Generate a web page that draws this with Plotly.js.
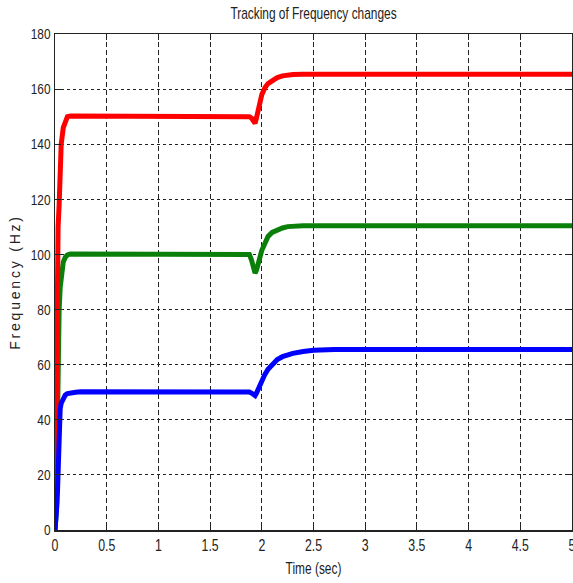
<!DOCTYPE html>
<html>
<head>
<meta charset="utf-8">
<script src="https://cdn.plot.ly/plotly-3.0.1.min.js"></script>
<style>
  html, body { margin: 0; padding: 0; background: #fff; overflow: hidden; }
  #chart { width: 573px; height: 583px; }
  .ytitle { letter-spacing: 2.8px; }
</style>
</head>
<body>
<div id="chart"></div>
<script>
// Time samples (sec)
const time = [0, 0.01, 0.02, 0.025, 0.03, 0.04, 0.05, 0.06, 0.08, 0.1, 0.12, 0.15, 0.2, 0.25, 0.3, 0.5, 1.0, 1.5,
              1.85, 1.88, 1.9, 1.92, 1.935, 1.95, 1.97, 2.0, 2.03, 2.06, 2.1, 2.15, 2.2, 2.25, 2.3, 2.4, 2.5, 2.7, 3.0, 4.0, 5.0];

// Frequency series (Hz)
const redFreq = [0, 40, 95, 105, 110, 118, 130, 140, 146, 148.5, 150, 150.2, 150.2, 150.2, 150.2, 150.2, 150.2, 150.2,
                 150.2, 150, 149.5, 148.2, 147.6, 149.8, 153.5, 158, 160.5, 162, 163, 164.2, 164.8, 165.1, 165.3, 165.4, 165.4, 165.4, 165.4, 165.4, 165.4];
const greenFreq = [0, 5, 30, 55, 68, 80, 88, 93, 97.3, 99, 99.8, 100.2, 100.2, 100.2, 100.2, 100.2, 100.2, 100.2,
                   100.2, 100, 98, 94.5, 93.2, 94.5, 98, 101.5, 104, 106.5, 108, 109, 109.6, 110.1, 110.3, 110.4, 110.4, 110.4, 110.4, 110.4, 110.4];
const blueFreq = [0, 4, 10, 15, 22, 40, 44, 46, 48, 49, 49.5, 49.8, 50, 50.2, 50.2, 50.2, 50.2, 50.2,
                  50.2, 50.1, 49.7, 49, 48.8, 49.8, 51.5, 54.5, 56.5, 58.3, 60.2, 61.9, 62.9, 63.6, 64.1, 64.8, 65.2, 65.5, 65.5, 65.5, 65.5];

const xTicks = [0, 0.5, 1, 1.5, 2, 2.5, 3, 3.5, 4, 4.5, 5];
const xTickLabels = ['0', '0.5', '1', '1.5', '2', '2.5', '3', '3.5', '4', '4.5', '5'];
const yTicks = [0, 20, 40, 60, 80, 100, 120, 140, 160, 180];

const titleText = 'Tracking of Frequency changes';
const xTitle = 'Time (sec)';
const yTitle = 'Frequency (Hz)';

const sans = '"Liberation Sans", Arial, sans-serif';

const traces = [
  { x: time, y: greenFreq, mode: 'lines', line: { color: '#0a800a', width: 5 }, hoverinfo: 'skip' },
  { x: time, y: redFreq, mode: 'lines', line: { color: '#ff0000', width: 5 }, hoverinfo: 'skip' },
  { x: time, y: blueFreq, mode: 'lines', line: { color: '#0000ff', width: 5 }, hoverinfo: 'skip' }
];

const layout = {
  width: 573, height: 583,
  margin: { l: 55, r: 1, t: 34, b: 53, pad: 0 },
  paper_bgcolor: '#ffffff', plot_bgcolor: '#ffffff',
  showlegend: false,
  title: {
    text: titleText,
    font: { family: sans, size: 17, color: '#222' },
    x: 0.5, xref: 'paper', xanchor: 'center',
    y: 1 - 13 / 583, yref: 'container', yanchor: 'middle'
  },
  xaxis: {
    range: [0, 5], tickvals: xTicks, ticktext: xTickLabels,
    ticks: 'inside', ticklen: 6, tickcolor: '#222', tickwidth: 1,
    showline: true, linecolor: '#222', linewidth: 1.5, mirror: 'ticks',
    showgrid: true, gridcolor: '#222', gridwidth: 1, griddash: '5px,3px',
    zeroline: false, ticklabeloverflow: 'allow',
    tickfont: { family: sans, size: 16, color: '#222' },
    title: { text: xTitle, font: { family: sans, size: 17, color: '#222' }, standoff: 9 }
  },
  yaxis: {
    range: [0, 180], tickvals: yTicks,
    ticks: 'inside', ticklen: 6, tickcolor: '#222', tickwidth: 1,
    showline: true, linecolor: '#222', linewidth: 1.5, mirror: 'ticks',
    showgrid: true, gridcolor: '#222', gridwidth: 1, griddash: '3px,3px',
    zeroline: false,
    tickfont: { family: sans, size: 15, color: '#222' },
    title: { text: yTitle, font: { family: sans, size: 14, color: '#222' }, standoff: 1 }
  }
};

// horizontal condensing of text, to mimic the narrow face of the original
function condense(selector, factor) {
  document.querySelectorAll(selector).forEach(function (t) {
    const len = t.getComputedTextLength();
    if (len > 0) {
      t.setAttribute('lengthAdjust', 'spacingAndGlyphs');
      t.setAttribute('textLength', (len * factor).toFixed(2));
    }
  });
}

Plotly.newPlot('chart', traces, layout, { staticPlot: true, displayModeBar: false }).then(function () {
  condense('.gtitle', 0.7);
  condense('.xtitle', 0.7);
  condense('.xtick text', 0.77);
  condense('.ytick text', 0.79);
});
</script>
</body>
</html>
